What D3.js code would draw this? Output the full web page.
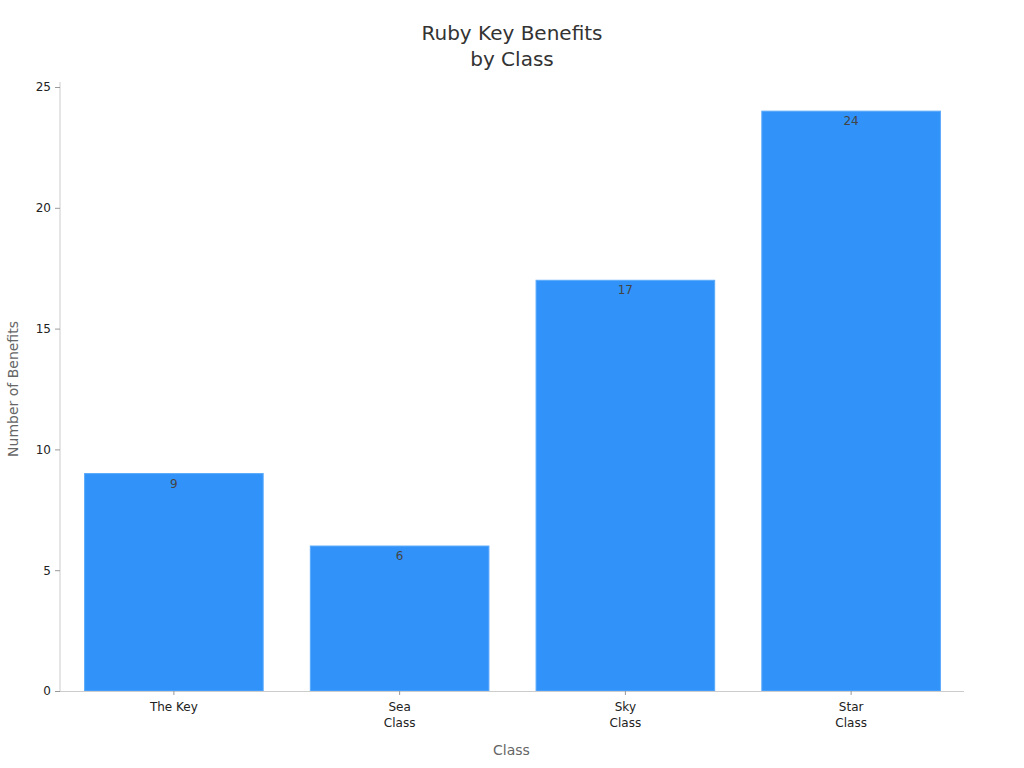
<!DOCTYPE html>
<html>
<head>
<meta charset="utf-8">
<script src="https://cdn.jsdelivr.net/npm/d3@7"></script>
<style>
  body { margin: 0; background: #fff; }
  svg { display: block; font-family: "DejaVu Sans", sans-serif; }
</style>
</head>
<body>
<svg id="chart" width="1024" height="768"></svg>
<script>
const categories = [["The Key"], ["Sea", "Class"], ["Sky", "Class"], ["Star", "Class"]];
const values = [9, 6, 17, 24];
const yTicks = [0, 5, 10, 15, 20, 25];

const svg = d3.select("#chart");
const margin = {left: 60, right: 61, top: 87, bottom: 77};
const W = 1024, H = 768;

const keys = categories.map(c => c.join(" "));
const x = d3.scaleBand().domain(keys).range([margin.left + 1, W - margin.right + 1]).paddingInner(0.2).paddingOuter(0.1);
const y = d3.scaleLinear().domain([0, 25]).range([H - margin.bottom, margin.top]);

// Title
const title = svg.append("text").attr("x", 512).attr("text-anchor", "middle")
  .attr("fill", "#333").style("font-size", "20px");
title.append("tspan").attr("x", 512).attr("y", 40).text("Ruby Key Benefits");
title.append("tspan").attr("x", 512).attr("y", 66).text("by Class");

// Y axis
const yAxis = svg.append("g").attr("transform", `translate(${margin.left},0)`)
  .call(d3.axisLeft(y).tickValues(yTicks).tickSize(5).tickPadding(4));
yAxis.select(".domain").attr("stroke", "#ccc").attr("d", `M0,${y(0)}V${margin.top - 5}`);
yAxis.selectAll(".tick line").attr("stroke", "#999");
yAxis.selectAll(".tick text").attr("fill", "#222").style("font-size", "12px").style("font-family", "DejaVu Sans");

// Bars
svg.append("g").selectAll("rect").data(values).join("rect")
  .attr("x", (d, i) => x(keys[i]) + 1)
  .attr("y", d => y(d))
  .attr("width", x.bandwidth() - 2)
  .attr("height", d => y(0) - y(d))
  .attr("fill", "#3193f9")
  .attr("stroke", "#5aa9fb").attr("stroke-width", 1);

// Value labels
svg.append("g").selectAll("text").data(values).join("text")
  .attr("x", (d, i) => x(keys[i]) + x.bandwidth() / 2)
  .attr("y", d => y(d) + 14)
  .attr("text-anchor", "middle")
  .attr("fill", "#444").style("font-size", "12px")
  .text(d => d);

// X axis
const xAxis = svg.append("g").attr("transform", `translate(0,${y(0)})`)
  .call(d3.axisBottom(x).tickSize(4).tickFormat(""));
xAxis.select(".domain").attr("stroke", "#ccc").attr("d", `M${margin.left},0.5H${W - margin.right + 1}`);
xAxis.selectAll(".tick line").attr("stroke", "#999");

const xl = svg.append("g");
categories.forEach((c, i) => {
  const t = xl.append("text").attr("text-anchor", "middle").attr("fill", "#222").style("font-size", "12px");
  c.forEach((line, j) => {
    t.append("tspan").attr("x", x(keys[i]) + x.bandwidth() / 2).attr("y", y(0) + 20 + j * 16).text(line);
  });
});

// Axis titles
svg.append("text").attr("x", (margin.left + W - margin.right) / 2).attr("y", 755)
  .attr("text-anchor", "middle").attr("fill", "#666").style("font-size", "14px").text("Class");
svg.append("text").attr("transform", `translate(18,${(y(0) + y(25)) / 2}) rotate(-90)`)
  .attr("text-anchor", "middle").attr("fill", "#666").style("font-size", "14px").text("Number of Benefits");
</script>
</body>
</html>
